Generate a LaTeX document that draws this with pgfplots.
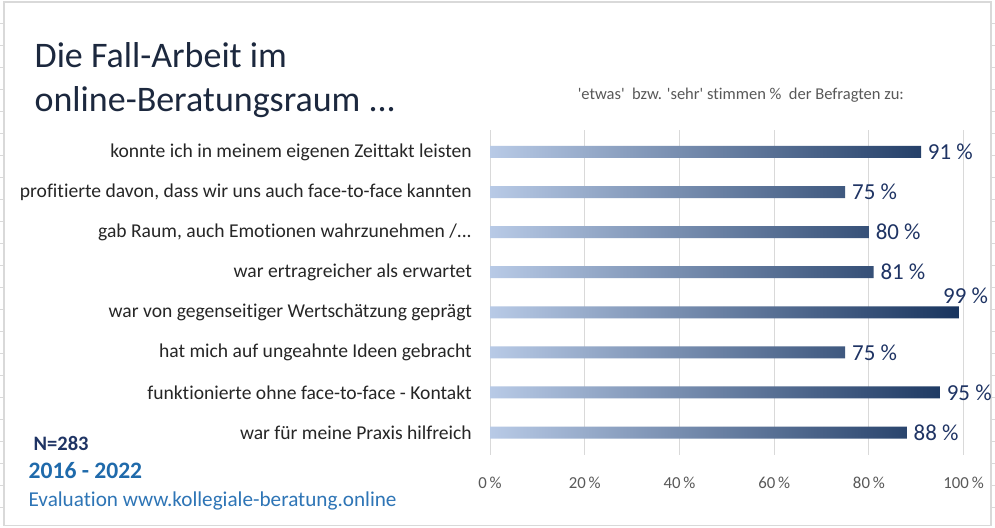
\documentclass[border=0pt]{standalone}
\usepackage{pgfplots}
\pgfplotsset{compat=1.18}
\usepackage{fontspec}
\setmainfont{Carlito}[Ligatures={NoCommon}]
\definecolor{barlight}{RGB}{184,202,230}
\definecolor{bardark}{RGB}{24,52,94}
\definecolor{titlecol}{RGB}{28,40,62}
\definecolor{catcol}{RGB}{38,38,38}
\definecolor{tickcol}{RGB}{89,89,89}
\definecolor{gridcol}{RGB}{217,217,217}
\definecolor{ncol}{RGB}{31,52,100}
\definecolor{yearcol}{RGB}{31,106,171}
\definecolor{evalcol}{RGB}{46,117,182}
\newcommand{\gabraum}{gab Raum, auch Emotionen wahrzunehmen /.{}.{}.}
\newcommand{\q}{\textquotesingle}
\begin{document}
\begin{tikzpicture}[x=0.75pt,y=0.75pt]
% canvas
\fill[white] (0,0) rectangle (995,528);
\foreach \k in {0,...,22} {
  \draw[gridcol,line width=0.6pt] (0,{528-23-22.05*\k}) -- (3,{528-23-22.05*\k});
  \draw[gridcol,line width=0.6pt] (992,{528-23-22.05*\k}) -- (995,{528-23-22.05*\k});
}
\draw[gridcol,line width=1pt] (3.5,2) rectangle (991.5,526);
% titles
\node[anchor=base west,inner sep=0pt,font=\fontsize{27}{32}\selectfont,text=titlecol] at (34,{528-68}) {Die Fall-Arbeit im};
\node[anchor=base west,inner sep=0pt,font=\fontsize{27}{32}\selectfont,text=titlecol] at (34,{528-112}) {online-Beratungsraum ...};
\node[anchor=base,inner sep=0pt,font=\fontsize{12.4}{14}\selectfont,text=tickcol] at (741,{528-100}) {\q etwas\q\ \ bzw. \q sehr\q\ stimmen \%\ \ der Befragten zu:};
\node[anchor=base west,inner sep=0pt,font=\fontsize{15.4}{18}\selectfont\bfseries,text=ncol] at (33,{528-451}) {N=283};
\node[anchor=base west,inner sep=0pt,font=\fontsize{17.7}{20}\selectfont\bfseries,text=yearcol] at (28,{528-479}) {2016 - 2022};
\node[anchor=base west,inner sep=0pt,font=\fontsize{15.9}{18}\selectfont,text=evalcol] at (28,{528-507}) {Evaluation www.kollegiale-beratung.online};
\begin{axis}[
  at={(367.5pt,54.75pt)}, anchor=south west,
  scale only axis, width=355.5pt, height=243.75pt,
  xmin=0, xmax=100, ymin=-0.55, ymax=7.55,
  axis line style={draw=none},
  major tick length=0pt,
  xtick={0,20,40,60,80,100},
  xmajorgrids, grid style={gridcol,line width=0.75pt},
  /pgf/number format/assume math mode=true,
  xticklabel={\pgfmathprintnumber{\tick}\,\%},
  xticklabel style={font=\fontsize{12.6}{14}\selectfont,text=tickcol,yshift=-13pt},
  ytick={0,1,2,3,4,5,6,7},
  yticklabels={war für meine Praxis hilfreich,
    funktionierte ohne face-to-face - Kontakt,
    hat mich auf ungeahnte Ideen gebracht,
    war von gegenseitiger Wertschätzung geprägt,
    war ertragreicher als erwartet,
    {\gabraum},
    {profitierte davon, dass wir uns auch face-to-face kannten},
    konnte ich in meinem eigenen Zeittakt leisten},
  yticklabel style={font=\fontsize{14.7}{17}\selectfont,text=catcol,anchor=east,inner sep=0pt,xshift=-13.5pt},
  clip=false,
]
\addplot[xbar, bar width=9pt, bar shift=0pt, draw=none, left color=barlight, right color=bardark]
  coordinates {(88,0) (95,1) (75,2) (99,3) (81,4) (80,5) (75,6) (91,7)};
\addplot[draw=none, mark=none, point meta=x,
  nodes near coords={\pgfmathprintnumber{\pgfplotspointmeta}\ \%},
  every node near coord/.append style={anchor=west, inner sep=0pt, xshift=5pt, font=\fontsize{17.2}{20}\selectfont, text=ncol}]
  coordinates {(88,0) (95,1) (75,2) (81,4) (80,5) (75,6) (91,7)};
\addplot[draw=none, mark=none, point meta=x,
  nodes near coords={\pgfmathprintnumber{\pgfplotspointmeta}\ \%},
  every node near coord/.append style={anchor=south, inner sep=0pt, xshift=5pt, yshift=6.5pt, font=\fontsize{17.2}{20}\selectfont, text=ncol}]
  coordinates {(99,3)};
\end{axis}
\end{tikzpicture}
\end{document}
